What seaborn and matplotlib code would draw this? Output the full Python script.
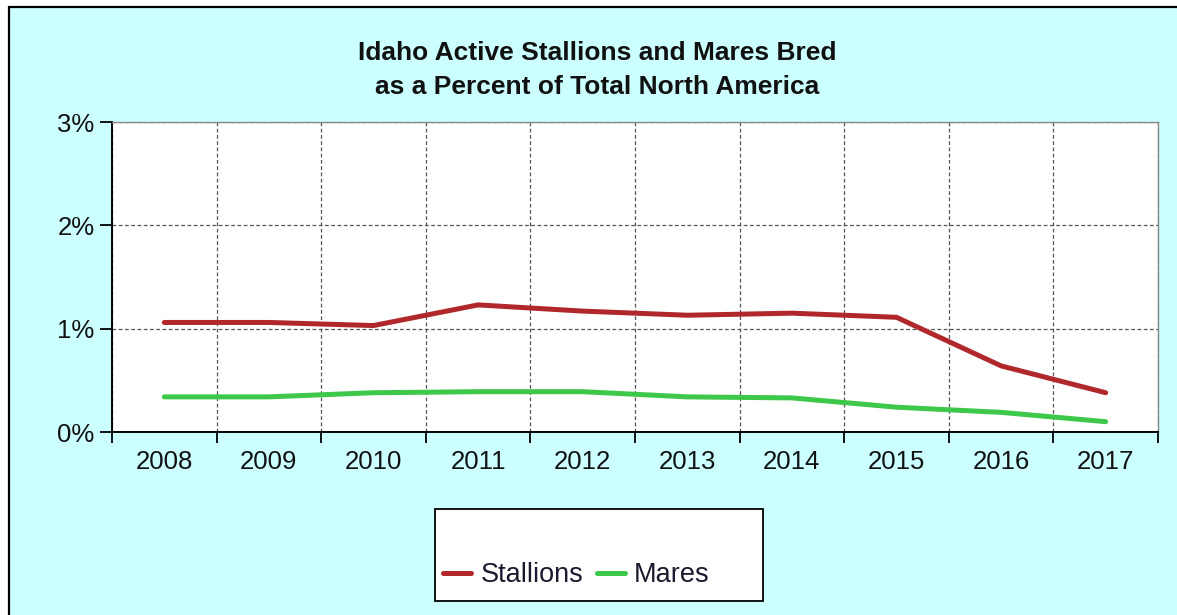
import matplotlib
matplotlib.use("Agg")
import matplotlib.pyplot as plt
import seaborn as sns
import pandas as pd
from matplotlib.patches import Rectangle
from matplotlib.lines import Line2D
from matplotlib.ticker import FixedLocator, FuncFormatter

# values (percent of total North America)
years = ["2008", "2009", "2010", "2011", "2012", "2013", "2014", "2015", "2016", "2017"]
stallions = [1.06, 1.06, 1.03, 1.23, 1.17, 1.13, 1.15, 1.11, 0.64, 0.38]
mares = [0.34, 0.34, 0.38, 0.39, 0.39, 0.34, 0.33, 0.24, 0.19, 0.10]
series_names = ["Stallions", "Mares"]
y_ticks = [0, 1, 2, 3]

df = pd.DataFrame({
    "Year": years * 2,
    "Share": stallions + mares,
    "Series": [series_names[0]] * len(years) + [series_names[1]] * len(years),
})

colors = {"Stallions": "#B0282C", "Mares": "#3DC84A"}
bg = "#CCFFFF"

sns.set_theme(style="white")
plt.rcParams["font.family"] = ["Liberation Sans", "DejaVu Sans"]

W, H = 1177, 615
fig = plt.figure(figsize=(W / 100, H / 100), dpi=100, facecolor="white")

# cyan chart area with black outline on left and top
fig.add_artist(Rectangle((9 / W, 0), 1 - 9 / W, 1 - 7 / H, transform=fig.transFigure,
                         facecolor=bg, edgecolor="none", zorder=-2))
fig.add_artist(Line2D([9 / W, 9 / W], [0, 1 - 7 / H], transform=fig.transFigure,
                      color="black", linewidth=1.6, zorder=-1))
fig.add_artist(Line2D([9 / W, 1], [1 - 7 / H, 1 - 7 / H], transform=fig.transFigure,
                      color="black", linewidth=1.6, zorder=-1))

ax = fig.add_axes([112 / W, 1 - 432 / H, (1158 - 112) / W, (432 - 122) / H])
ax.set_facecolor("white")

sns.lineplot(data=df, x="Year", y="Share", hue="Series", palette=colors,
             linewidth=3.6, sort=False, legend=False, ax=ax)

n = len(years)
ax.set_xlim(-0.5, n - 0.5)
ax.set_ylim(0, 3)

# category boundaries as major ticks, labels on minor ticks at centres
ax.xaxis.set_major_locator(FixedLocator([i - 0.5 for i in range(n + 1)]))
ax.xaxis.set_minor_locator(FixedLocator(list(range(n))))
ax.set_xticklabels([""] * (n + 1))
ax.set_xticklabels(years, minor=True)
ax.tick_params(axis="x", which="major", direction="out", length=8, width=1.3, color="black",
               bottom=True)
ax.tick_params(axis="x", which="minor", length=0, labelsize=18.5, pad=13, labelcolor="#111111")

ax.set_yticks(y_ticks)
ax.yaxis.set_major_formatter(FuncFormatter(lambda v, p: "%d%%" % v))
ax.tick_params(axis="y", direction="out", length=9, width=1.3, color="black", left=True,
               labelsize=18.5, pad=3.5, labelcolor="#111111")

ax.grid(True, which="major", color="#555555", linestyle=(0, (3, 2)), linewidth=0.9)
ax.set_axisbelow(True)

for s in ["left", "bottom"]:
    ax.spines[s].set_color("black")
    ax.spines[s].set_linewidth(1.4)
for s in ["top", "right"]:
    ax.spines[s].set_color("#888888")
    ax.spines[s].set_linewidth(1.0)

ax.set_xlabel("")
ax.set_ylabel("")

fig.text(597 / W, 1 - 70 / H, "Idaho Active Stallions and Mares Bred\nas a Percent of Total North America",
         ha="center", va="center", fontsize=19, fontweight="bold", color="#111111",
         linespacing=1.5)

# legend box, entries sit at the bottom of it
fig.add_artist(Rectangle((435 / W, 1 - 601 / H), 328 / W, 92 / H, transform=fig.transFigure,
                         facecolor="white", edgecolor="black", linewidth=1.3, zorder=0))
handles = [Line2D([], [], color=colors[s], linewidth=3.6) for s in series_names]
fig.legend(handles, series_names, loc="center left", bbox_to_anchor=(443 / W, 1 - 575 / H),
           frameon=False, ncol=2, fontsize=19.5, handlelength=1.05, handletextpad=0.33,
           columnspacing=0.5, borderpad=0, borderaxespad=0, labelcolor="#1a1a2e")

fig.savefig("out.png", dpi=100, facecolor="white")
